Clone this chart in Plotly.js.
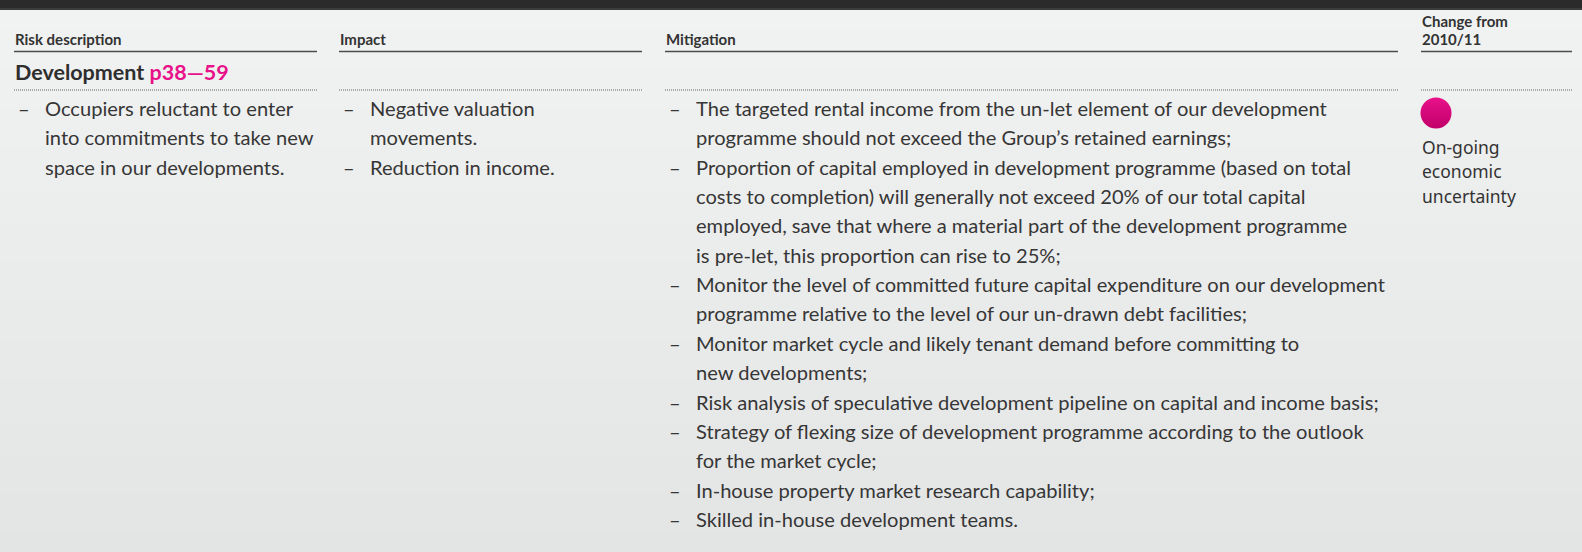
<!DOCTYPE html>
<html>
<head>
<meta charset="utf-8">
<script src="https://cdn.plot.ly/plotly-3.0.1.min.js"></script>
<style>
html,body{margin:0;padding:0;background:#eceded;overflow:hidden;}
#chart{width:1582px;height:552px;}
</style>
</head>
<body>
<div id="chart"></div>
<script>
// ---------- data ----------
const columnHeaders = ["Risk description", "Impact", "Mitigation", "Change from<br>2010/11"];
const riskCategory = "Development";
const riskPageRef = "p38—59";
const riskItems = [
  ["Occupiers reluctant to enter", "into commitments to take new", "space in our developments."]
];
const impactItems = [
  ["Negative valuation", "movements."],
  ["Reduction in income."]
];
const mitigationItems = [
  ["The targeted rental income from the un-let element of our development",
   "programme should not exceed the Group’s retained earnings;"],
  ["Proportion of capital employed in development programme (based on total",
   "costs to completion) will generally not exceed 20% of our total capital",
   "employed, save that where a material part of the development programme",
   "is pre-let, this proportion can rise to 25%;"],
  ["Monitor the level of committed future capital expenditure on our development",
   "programme relative to the level of our un-drawn debt facilities;"],
  ["Monitor market cycle and likely tenant demand before committing to",
   "new developments;"],
  ["Risk analysis of speculative development pipeline on capital and income basis;"],
  ["Strategy of flexing size of development programme according to the outlook",
   "for the market cycle;"],
  ["In-house property market research capability;"],
  ["Skilled in-house development teams."]
];
const changeLevel = ["increased"];
const changeStatus = ["On-going", "economic", "uncertainty"];

// ---------- layout geometry ----------
const W = 1582, H = 552;
const colLeft = [14, 339, 665, 1421];
const colRight = [317, 642, 1398, 1572];
const headerY = 39, headerLineY = 51.5, headerStep = 18;
const catY = 72, dotY = 90;
const firstLineY = 108, lineStep = 29.35, textIndent = 30, dashIndent = 3;
const bodyFont = {family: "Lato, 'Open Sans', sans-serif", size: 20.1, color: "#363636"};
const headFont = {family: "Lato, 'Open Sans', sans-serif", size: 15, color: "#333333", weight: 700};
const pink = "#e8118a";

const annotations = [];
const shapes = [];

function ann(x, y, text, font, extra) {
  annotations.push(Object.assign({
    x: x, y: y, xref: "x", yref: "y", text: text, showarrow: false,
    xanchor: "left", yanchor: "middle", font: font, borderpad: 0
  }, extra || {}));
}

// top dark bar
shapes.push({type: "rect", xref: "x", yref: "y", x0: 0, x1: W, y0: 0, y1: 10,
  fillcolor: "#2b2b2b", line: {width: 0}, layer: "above"});
shapes.push({type: "line", xref: "x", yref: "y", x0: 0, x1: W, y0: 9, y1: 9,
  line: {color: "#3c3c3c", width: 2}});

// headers + lines
columnHeaders.forEach(function (h, i) {
  const parts = h.split("<br>");
  parts.forEach(function (p, j) {
    ann(colLeft[i], headerY - (parts.length - 1 - j) * headerStep, "<b>" + p + "</b>", headFont);
  });
  shapes.push({type: "line", xref: "x", yref: "y", x0: colLeft[i], x1: colRight[i],
    y0: headerLineY, y1: headerLineY, line: {color: "#4d4d4d", width: 1.5}});
  shapes.push({type: "line", xref: "x", yref: "y", x0: colLeft[i], x1: colRight[i],
    y0: dotY, y1: dotY, line: {color: "#666666", width: 1, dash: "1px,1px"}});
});

// category title
ann(colLeft[0], catY,
  "<b>" + riskCategory + " <span style='color:" + pink + "'>" + riskPageRef + "</span></b>",
  {family: "Lato, 'Open Sans', sans-serif", size: 21.5, color: "#2e2e2e"});

// bulleted columns
function bulletColumn(items, col) {
  let line = 0;
  items.forEach(function (lines) {
    ann(colLeft[col] + dashIndent, firstLineY + line * lineStep, "–", bodyFont);
    lines.forEach(function (t) {
      ann(colLeft[col] + textIndent, firstLineY + line * lineStep, t, bodyFont);
      line++;
    });
  });
}
bulletColumn(riskItems, 0);
bulletColumn(impactItems, 1);
bulletColumn(mitigationItems, 2);

// change column text
changeStatus.forEach(function (t, i) {
  ann(colLeft[3], 147 + i * 24.3, t, {family: "'Noto Sans', sans-serif", size: 17.5, color: "#333333"});
});

const traces = [
  {
    type: "heatmap", x: [0, W], y: [10, H], z: [[0, 0], [1, 1]], zsmooth: "best",
    colorscale: [[0, "#f1f2f2"], [1, "#e3e4e4"]], showscale: false, hoverinfo: "skip"
  },
  {
    type: "scatter", mode: "markers", x: changeLevel.map(function () { return colLeft[3] + 15; }),
    y: changeLevel.map(function () { return 113; }),
    marker: {size: 31, color: pink, gradient: {type: "vertical", color: "#c0006a"}, line: {width: 0}},
    hoverinfo: "skip", showlegend: false
  }
];

const layout = {
  width: W, height: H,
  margin: {l: 0, r: 0, t: 0, b: 0, pad: 0},
  paper_bgcolor: "#eceded", plot_bgcolor: "rgba(0,0,0,0)",
  xaxis: {range: [0, W], visible: false, fixedrange: true},
  yaxis: {range: [H, 0], visible: false, fixedrange: true},
  showlegend: false,
  annotations: annotations,
  shapes: shapes
};

Plotly.newPlot("chart", traces, layout, {displayModeBar: false, staticPlot: true});
</script>
</body>
</html>
